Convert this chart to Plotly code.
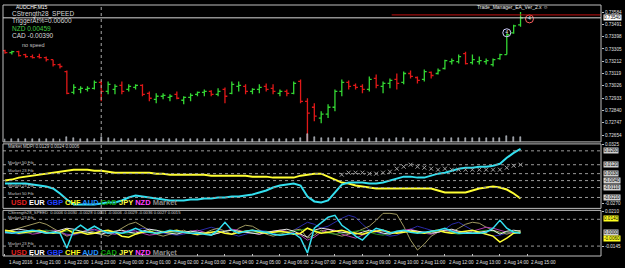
import plotly.graph_objects as go

# ---------------- data ----------------
bar_high = [0.73299,0.73292,0.73292,0.73269,0.73262,0.73269,0.73247,0.73224,0.73194,0.73142,
            0.73037,0.73022,0.73022,0.73067,0.73067,0.73059,0.73037,0.73059,0.73037,0.73037,
            0.73037,0.72984,0.72969,0.72969,0.72962,0.72984,0.72947,0.72969,0.72984,0.72999,
            0.72992,0.73007,0.73014,0.73059,0.73059,0.73037,0.73007,0.73037,0.73044,0.73037,
            0.72999,0.72999,0.73059,0.73074,0.72932,0.72894,0.72834,0.72887,0.72999,0.73074,
            0.73067,0.73044,0.73037,0.73097,0.73112,0.73059,0.73082,0.73119,0.73134,0.73142,
            0.73097,0.73149,0.73134,0.73157,0.73224,0.73232,0.73262,0.73284,0.73262,0.73247,
            0.73232,0.73232,0.73269,0.73419,0.73487,0.73584]
bar_low = [0.73269,0.73262,0.73247,0.73239,0.73232,0.73232,0.73209,0.73172,0.73157,0.72962,
           0.72962,0.72969,0.72984,0.72999,0.72909,0.72962,0.72962,0.72962,0.72984,0.72999,
           0.72947,0.72909,0.72894,0.72924,0.72909,0.72924,0.72887,0.72909,0.72947,0.72947,
           0.72947,0.72947,0.72894,0.72962,0.72984,0.72962,0.72962,0.72969,0.72984,0.72962,
           0.72947,0.72947,0.72962,0.72894,0.72609,0.72759,0.72744,0.72782,0.72834,0.72947,
           0.72999,0.72999,0.72969,0.72984,0.73007,0.72969,0.73007,0.72999,0.73037,0.73082,
           0.73044,0.73059,0.73082,0.73112,0.73149,0.73187,0.73194,0.73187,0.73187,0.73187,
           0.73187,0.73172,0.73224,0.73262,0.73419,0.73472]
bar_open = [0.73292,0.73277,0.73284,0.73262,0.73247,0.73247,0.73239,0.73224,0.73187,0.73134,
            0.72977,0.72999,0.72999,0.73007,0.73052,0.72984,0.72999,0.73029,0.72999,0.73014,
            0.73029,0.72969,0.72924,0.72947,0.72939,0.72962,0.72917,0.72939,0.72962,0.72977,
            0.72984,0.72962,0.72999,0.72969,0.73022,0.73022,0.72984,0.72999,0.73022,0.73007,
            0.72969,0.72984,0.72969,0.73059,0.72909,0.72864,0.72782,0.72812,0.72864,0.72984,
            0.73052,0.73029,0.73022,0.72999,0.73082,0.73022,0.73044,0.73074,0.73052,0.73119,
            0.73089,0.73074,0.73127,0.73119,0.73157,0.73209,0.73209,0.73269,0.73202,0.73209,
            0.73209,0.73187,0.73232,0.73262,0.73427,0.73487]
bar_close = [0.73277,0.73284,0.73254,0.73247,0.73239,0.73239,0.73224,0.73187,0.73172,0.72969,
             0.73014,0.73007,0.73007,0.73052,0.72984,0.73037,0.73022,0.72984,0.73022,0.73029,
             0.72962,0.72932,0.72947,0.72954,0.72947,0.72932,0.72939,0.72954,0.72977,0.72984,
             0.72962,0.72984,0.72947,0.73037,0.73029,0.72984,0.72999,0.73014,0.72999,0.72984,
             0.72984,0.72969,0.73044,0.72909,0.72819,0.72797,0.72812,0.72864,0.72984,0.73052,
             0.73022,0.73014,0.72999,0.73074,0.73029,0.73044,0.73067,0.73044,0.73119,0.73097,
             0.73067,0.73134,0.73104,0.73142,0.73217,0.73217,0.73247,0.73194,0.73224,0.73217,
             0.73217,0.73224,0.73262,0.73412,0.73479,0.73539]
volume = [2,2,2,2,2,2,2,2,2,4,3,2,2,2,4,3,2,2,2,2,
          2,2,2,2,2,2,2,2,2,2,2,2,2,2,2,2,2,2,2,2,
          2,2,2,3,6,4,3,3,3,3,2,2,2,3,3,2,2,3,3,2,
          2,3,2,2,3,3,3,3,3,3,3,3,3,5,4,4]

time_labels = ["1 Aug 2016","1 Aug 21:00","1 Aug 22:00","1 Aug 23:00","2 Aug 00:00",
               "2 Aug 01:00","2 Aug 02:00","2 Aug 03:00","2 Aug 04:00","2 Aug 05:00",
               "2 Aug 06:00","2 Aug 07:00","2 Aug 08:00","2 Aug 09:00","2 Aug 10:00",
               "2 Aug 11:00","2 Aug 12:00","2 Aug 13:00","2 Aug 14:00","2 Aug 15:00"]
time_label_bars = [0,4,8,12,16,20,24,28,32,36,40,44,48,52,56,60,64,68,72,76]

price_ticks = [0.73584,0.73491,0.73398,0.73305,0.73212,0.73119,0.73026,0.72933,0.72840,0.72747,0.72654]
bid_price = 0.73540
ask_price = 0.73562
trade_bars = [73, 76.3]
trade_prices = [0.73427, 0.73532]
trade_marks = ["4", "4"]

# pane 2 (Market MDPI)
mdpi_yellow = [-0.004,-0.003,-0.001,0.000,0.001,0.002,0.003,0.004,0.005,0.006,
               0.007,0.007,0.007,0.006,0.006,0.005,0.004,0.004,0.004,0.004,
               0.004,0.004,0.003,0.003,0.002,0.002,0.002,0.002,0.002,0.002,
               0.001,0.001,0.001,0.001,0.001,0.001,0.000,0.000,0.000,-0.001,
               -0.001,-0.001,-0.001,0.001,0.002,0.003,0.003,0.000,-0.003,-0.006,
               -0.007,-0.009,-0.010,-0.011,-0.012,-0.012,-0.012,-0.012,-0.012,-0.012,
               -0.012,-0.012,-0.012,-0.014,-0.016,-0.016,-0.016,-0.016,-0.014,-0.012,
               -0.011,-0.010,-0.011,-0.013,-0.017,-0.022]
mdpi_cyan = [-0.007,-0.007,-0.007,-0.007,-0.008,-0.009,-0.010,-0.012,-0.017,-0.023,
             -0.028,-0.028,-0.028,-0.028,-0.027,-0.026,-0.026,-0.024,-0.021,-0.019,
             -0.020,-0.021,-0.022,-0.023,-0.024,-0.024,-0.024,-0.023,-0.023,-0.022,
             -0.022,-0.021,-0.021,-0.020,-0.020,-0.019,-0.018,-0.016,-0.014,-0.011,
             -0.009,-0.008,-0.007,-0.009,-0.020,-0.025,-0.026,-0.024,-0.016,-0.008,
             -0.006,-0.006,-0.006,-0.007,-0.007,-0.006,-0.004,-0.002,0.000,0.000,
             -0.001,-0.001,0.001,0.003,0.004,0.006,0.008,0.009,0.009,0.010,
             0.010,0.011,0.013,0.019,0.024,0.028]
mdpi_mark_start = 49
mdpi_marks = [0.002,0.004,0.004,0.004,0.003,0.003,0.004,0.005,0.008,0.010,0.012,0.010,0.009,0.008,
              0.007,0.008,0.007,0.007,0.007,0.007,0.007,0.007,0.007,0.007,0.009,0.011,0.012]
mdpi_levels = [0.026,0.012,0.003,-0.004,-0.011,-0.021]
mdpi_level_text = ["0.0260","0.0120","0.0030","-0.0040","-0.0110","-0.0210"]
mdpi_axis_ticks = [0.0325, -0.027]

# pane 3 (CStrength28_SPEED)
spd_aud = [0.000,-0.001,0.000,0.001,0.002,0.001,-0.001,0.000,-0.001,-0.016,0.002,0.007,0.002,0.006,0.002,-0.001,0.000,-0.001,0.001,0.004,
           0.001,0.000,-0.001,0.000,0.002,0.001,0.000,-0.001,-0.001,-0.002,-0.003,0.002,0.010,0.002,-0.001,0.001,0.002,0.001,0.000,-0.002,
           -0.003,-0.002,-0.001,-0.006,-0.021,0.004,0.010,0.015,0.017,0.007,0.002,-0.004,-0.008,-0.001,0.004,0.002,-0.001,0.001,0.002,0.000,
           -0.001,0.000,0.001,0.002,0.004,0.001,-0.001,-0.001,-0.001,-0.001,0.000,0.004,0.012,0.004,0.000,-0.001]
spd_chf = [0.002,0.001,-0.001,0.000,0.001,0.002,0.000,-0.001,0.000,0.003,-0.001,0.000,-0.002,-0.001,0.001,0.002,0.000,-0.004,-0.005,-0.002,
           0.000,0.001,-0.001,0.000,0.001,0.002,0.000,-0.001,-0.002,-0.001,0.000,0.001,-0.001,-0.002,0.000,0.001,0.002,0.000,-0.001,0.000,
           0.001,0.000,-0.002,-0.001,0.004,0.001,-0.001,0.000,0.001,0.002,0.000,-0.001,-0.002,0.000,0.001,0.002,0.000,-0.001,0.000,0.001,
           0.000,-0.001,0.001,0.002,0.000,-0.001,0.000,0.001,0.002,0.000,-0.002,-0.004,-0.010,-0.006,-0.001,0.000]
spd_eur = [0.001,0.002,0.003,0.002,0.001,0.000,-0.001,0.000,0.002,0.004,0.003,0.001,0.000,-0.001,-0.002,0.000,0.001,0.002,0.000,-0.001,
           0.001,0.003,0.002,0.000,-0.001,-0.002,0.000,0.001,0.000,-0.001,-0.003,-0.001,0.001,0.002,0.001,0.000,-0.001,-0.002,0.000,0.001,
           0.002,0.003,0.001,-0.002,-0.005,0.002,0.004,0.003,0.001,0.000,-0.001,-0.002,0.000,0.002,0.001,-0.001,-0.002,0.000,0.001,0.002,
           0.001,0.000,-0.001,0.000,0.002,0.003,0.001,0.000,-0.001,0.000,0.001,0.002,-0.002,0.001,0.002,0.001]
spd_market = [0.000,0.002,0.004,0.006,0.008,0.010,0.008,0.004,0.000,-0.004,-0.002,0.000,0.002,0.000,-0.002,-0.004,0.000,0.004,0.008,0.010,
              0.006,0.002,-0.002,-0.004,-0.002,0.000,0.002,-0.001,-0.003,-0.001,0.002,0.004,0.001,-0.002,0.004,0.007,0.006,0.002,-0.002,-0.004,
              -0.002,0.000,0.002,0.003,-0.006,-0.003,0.002,0.000,-0.002,-0.004,-0.002,0.000,0.003,0.006,0.012,0.019,0.019,0.018,0.006,-0.008,
              -0.018,-0.012,-0.004,0.000,0.002,0.000,0.004,0.008,0.010,0.009,0.005,0.002,0.000,-0.002,0.000,0.002]
spd_gbp = [0.000,-0.001,-0.002,-0.001,0.000,0.001,0.002,0.001,0.000,-0.002,-0.003,-0.001,0.001,0.002,0.000,-0.001,-0.002,-0.001,0.000,0.002,
           0.004,0.003,0.001,-0.001,-0.002,-0.003,-0.002,0.000,0.001,0.003,0.005,0.003,0.000,-0.002,-0.004,-0.002,0.000,0.002,0.001,-0.001,
           -0.003,-0.002,0.002,0.006,0.010,0.008,0.004,0.006,0.010,0.014,0.017,0.015,0.008,0.002,0.000,-0.002,-0.004,-0.003,0.000,0.003,
           0.006,0.004,0.002,0.000,0.003,0.008,0.010,0.006,0.002,0.000,-0.002,-0.004,-0.003,-0.001,0.000,0.001]
spd_nzd = [-0.001,0.000,0.001,0.000,-0.002,-0.001,0.001,0.002,0.001,-0.003,-0.002,0.000,0.002,0.003,0.001,-0.001,-0.002,0.000,0.002,0.001,
           -0.001,-0.003,-0.002,0.000,0.001,0.000,-0.001,0.001,0.002,0.000,-0.002,-0.001,0.001,0.003,0.002,0.000,-0.001,-0.002,-0.001,0.001,
           0.002,0.001,-0.001,-0.003,-0.008,-0.005,0.000,0.003,0.002,-0.002,-0.004,-0.006,-0.003,0.000,0.002,0.001,-0.001,0.000,0.002,0.003,
           0.001,-0.001,-0.002,0.000,0.001,0.002,0.000,-0.001,0.001,0.003,0.005,0.004,0.002,0.000,-0.001,0.000]
spd_cad = [0.000,0.001,0.000,-0.001,0.000,0.001,0.002,0.001,0.000,0.001,0.002,0.001,0.000,-0.001,0.000,0.001,0.000,-0.001,-0.002,-0.001,
           0.000,0.001,0.002,0.001,0.000,-0.001,0.000,0.001,0.000,-0.001,-0.002,0.000,0.001,0.002,0.001,0.000,-0.001,0.000,0.001,0.000,
           -0.001,0.000,0.001,0.002,0.004,0.002,0.000,-0.001,-0.002,-0.001,0.000,0.001,0.002,0.000,-0.002,-0.003,-0.001,0.001,0.002,0.001,
           0.000,-0.001,0.000,0.001,0.000,-0.001,-0.002,-0.001,0.000,0.001,0.002,0.001,-0.001,0.000,0.001,0.000]
spd_levels = [0.013, 0.000, -0.014]
spd_level_text = ["0.0130", "0.0000", "-0.0140"]
spd_value_marks = [0.014, -0.006]
spd_value_text = ["0.0140", "-0.0060"]
spd_axis_ticks = [0.021, -0.0145]

# ---------------- layout helpers ----------------
W, H = 625, 268
ML, MR, MT, MB = 3, 20, 3, 12
PW, PH = W - ML - MR, H - MT - MB
def px(x):
    return (x - ML) / PW
def py(y):
    return (H - MB - y) / PH

X0, XPB = 5, 6.92  # pixel of bar 0, pixels per bar
xr = [(ML - X0) / XPB, (W - MR - X0) / XPB]

d1 = [py(141), 1.0]
d2 = [py(208), py(143)]
d3 = [0.0, py(210)]

GREEN = "#33d633"
RED = "#e01818"
BORDER = "#bfbfbf"
FONT = "Liberation Sans"

bars = list(range(len(bar_close)))
fig = go.Figure()

fig.add_trace(go.Bar(x=bars, y=volume, marker_color="#7a7a7a", width=0.14,
                     xaxis="x", yaxis="y4", showlegend=False))
fig.add_trace(go.Ohlc(x=bars, open=bar_open, high=bar_high, low=bar_low, close=bar_close,
                      increasing=dict(line=dict(color=GREEN, width=1.3)),
                      decreasing=dict(line=dict(color=RED, width=1.3)),
                      tickwidth=0.35, xaxis="x", yaxis="y", showlegend=False))
fig.add_trace(go.Scatter(x=trade_bars, y=trade_prices, mode="markers+text", text=trade_marks,
                         textposition="middle center",
                         textfont=dict(family=FONT, size=4.5, color="#ffffff"),
                         marker=dict(symbol="circle-open", size=8, color=["#d0d0ff", "#ff6060"],
                                     line=dict(width=1)),
                         xaxis="x", yaxis="y", showlegend=False, cliponaxis=False))

# pane 2
fig.add_trace(go.Scatter(x=bars[:len(mdpi_yellow)], y=mdpi_yellow, mode="lines",
                         line=dict(color="#ffff33", width=2), xaxis="x", yaxis="y2", showlegend=False))
fig.add_trace(go.Scatter(x=bars[:len(mdpi_cyan)], y=mdpi_cyan, mode="lines",
                         line=dict(color="#33e0f0", width=2), xaxis="x", yaxis="y2", showlegend=False))
fig.add_trace(go.Scatter(x=list(range(mdpi_mark_start, mdpi_mark_start + len(mdpi_marks))), y=mdpi_marks,
                         mode="markers", marker=dict(symbol="x-thin", size=4, line=dict(color="#a0a0a0", width=1)),
                         xaxis="x", yaxis="y2", showlegend=False))

# pane 3
for ser, col, w in [(spd_gbp, "#2a2aa8", 1), (spd_market, "#a09a60", 1), (spd_nzd, "#b040b0", 1),
                    (spd_cad, "#208a20", 1), (spd_eur, "#e8e8e8", 1), (spd_chf, "#ffff33", 1.5),
                    (spd_aud, "#33e0f0", 1.5)]:
    fig.add_trace(go.Scatter(x=bars[:len(ser)], y=ser, mode="lines", line=dict(color=col, width=w),
                             xaxis="x", yaxis="y3", showlegend=False))

shapes = []
for lv in mdpi_levels:
    shapes.append(dict(type="line", xref="paper", x0=0, x1=1, yref="y2", y0=lv, y1=lv,
                       line=dict(color="#9a9a9a", width=1, dash="dot")))
for lv in (spd_levels[0], spd_levels[2]):
    shapes.append(dict(type="line", xref="paper", x0=0, x1=1, yref="y3", y0=lv, y1=lv,
                       line=dict(color="#9a9a9a", width=1, dash="dot")))
shapes.append(dict(type="line", xref="paper", x0=0, x1=1, yref="y", y0=bid_price, y1=bid_price,
                   line=dict(color="#d8d8d8", width=1)))
shapes.append(dict(type="line", xref="paper", x0=0.65, x1=1, yref="y", y0=ask_price, y1=ask_price,
                   line=dict(color="#c01010", width=1)))
shapes.append(dict(type="line", xref="x", x0=14, x1=14, yref="paper", y0=0, y1=1,
                   line=dict(color="#a8a8a8", width=1, dash="dot")))
for d in (d1, d2, d3):
    shapes.append(dict(type="rect", xref="paper", x0=0, x1=1, yref="paper", y0=d[0], y1=d[1],
                       line=dict(color=BORDER, width=1)))

ann = []
def txt(x, y, s, color="#ffffff", size=6, bold=False, anchor="left"):
    ann.append(dict(xref="paper", yref="paper", x=px(x), y=py(y), text=("<b>%s</b>" % s) if bold else s,
                    showarrow=False, xanchor=anchor, yanchor="middle",
                    font=dict(family=FONT, size=size, color=color)))

txt(14, 5, "AUDCHF,M15", "#ffffff", 5)
txt(10, 12.5, "CStrength28_SPEED", "#d8d8d8", 6.5)
txt(10, 19.5, "TriggerAt%=0.00600", "#d8d8d8", 6.5)
txt(10, 26.5, "NZD 0.00459", "#40c840", 6.5)
txt(10, 33.5, "CAD -0.00390", "#d8d8d8", 6.5)
txt(20, 43, "no speed", "#c0c0c0", 5.5)
txt(478, 5, "Trade_Manager_EA_Ver_2.x \u263a", "#e8e8e8", 5)
txt(6, 146, "Market MDPI 0.0129 0.0024 0.0006", "#d0d0d0", 4.5)
txt(6, 212, "CStrength28_SPEED  0.0006 0.0030 -0.0028 0.0001 -0.0006 -0.0029 -0.0036 0.0027 0.0015", "#d0d0d0", 4.2)
txt(6, 162, "Market 50 Fib", "#c0c0c0", 4.2)
txt(6, 170, "Market 23 Fib", "#c0c0c0", 4.2)
txt(6, 185, "Market 23 Fib", "#c0c0c0", 4.2)
txt(6, 193, "Market 50 Fib", "#c0c0c0", 4.2)
txt(6, 217, "Market 23 Fib", "#c0c0c0", 4.2)
txt(6, 243, "Market 23 Fib", "#c0c0c0", 4.2)

cur = ("<span style='color:#e02020'>USD</span> <span style='color:#ffffff'>EUR</span> "
       "<span style='color:#2040ff'>GBP</span> <span style='color:#ffff20'>CHF</span> "
       "<span style='color:#2090ff'>AUD</span> <span style='color:#10a010'>CAD</span> "
       "<span style='color:#ffff40'>JPY</span> <span style='color:#ff40ff'>NZD</span> "
       "<span style='color:#8a8a8a'>Market</span>")
txt(9, 202, cur, "#ffffff", 7.5, bold=True)
txt(9, 252, cur, "#ffffff", 7.5, bold=True)

for b, s in zip(time_label_bars, time_labels):
    ann.append(dict(xref="x", yref="paper", x=b, y=0, yshift=-2, xshift=2, text=s, showarrow=False,
                    xanchor="left", yanchor="top", font=dict(family=FONT, size=4.6, color="#e0e0e0")))

def box(yref, yv, s, bg, fg="#000000"):
    ann.append(dict(xref="paper", yref=yref, x=1, xshift=2, y=yv, text=s, showarrow=False,
                    xanchor="left", yanchor="middle", bgcolor=bg, borderpad=0,
                    font=dict(family=FONT, size=4.6, color=fg)))

box("y", bid_price, "0.73540", "#ffffff")
for lv, s in zip(mdpi_levels, mdpi_level_text):
    box("y2", lv, s, "#cfcfcf")
for lv, s in zip(spd_levels[1:2], spd_level_text[1:2]):
    box("y3", lv, s, "#cfcfcf")
for lv, s in zip(spd_value_marks, spd_value_text):
    box("y3", lv, s, "#ffff20")

TICKFONT = dict(family=FONT, size=4.6, color="#e0e0e0")
fig.update_layout(
    width=W, height=H, margin=dict(l=ML, r=MR, t=MT, b=MB),
    paper_bgcolor="#000000", plot_bgcolor="#000000",
    shapes=shapes, annotations=ann, bargap=0,
    xaxis=dict(domain=[0, 1], range=xr, anchor="y3", showgrid=False, zeroline=False,
               tickvals=time_label_bars, ticks="inside", ticklen=2, tickcolor=BORDER,
               showticklabels=False, rangeslider=dict(visible=False)),
    yaxis=dict(domain=d1, range=[0.72602, 0.73637], side="right", anchor="x", showgrid=False,
               zeroline=False, tickvals=price_ticks, ticktext=["%.5f" % v for v in price_ticks],
               ticks="outside", ticklen=2, tickcolor=BORDER, tickfont=TICKFONT),
    yaxis4=dict(domain=d1, range=[0, 110], overlaying="y", visible=False),
    yaxis2=dict(domain=d2, range=[-0.032, 0.033], side="right", anchor="x", showgrid=False,
                zeroline=False, tickvals=mdpi_axis_ticks, ticktext=["%.4f" % v for v in mdpi_axis_ticks],
                ticks="outside", ticklen=2, tickcolor=BORDER, tickfont=TICKFONT),
    yaxis3=dict(domain=d3, range=[-0.024, 0.022], side="right", anchor="x", showgrid=False,
                zeroline=False, tickvals=spd_axis_ticks, ticktext=["%.4f" % v for v in spd_axis_ticks],
                ticks="outside", ticklen=2, tickcolor=BORDER, tickfont=TICKFONT),
)

fig.write_html("out.html")
